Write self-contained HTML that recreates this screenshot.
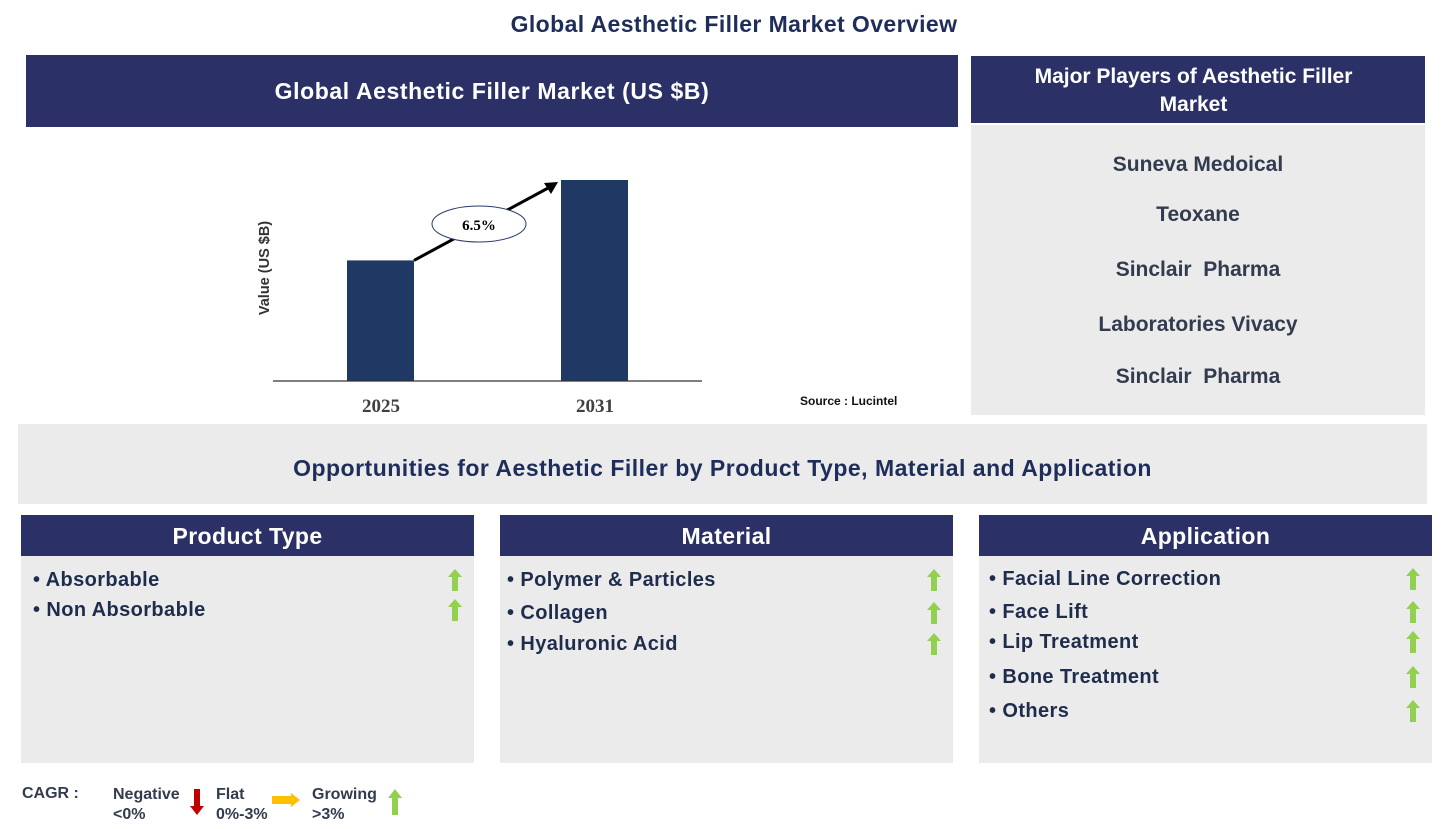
<!DOCTYPE html>
<html><head><meta charset="utf-8"><style>
body{margin:0;width:1449px;height:829px;background:#fff;font-family:"Liberation Sans",Arial,sans-serif;position:relative;overflow:hidden}
.a{position:absolute}
.hdr{background:#2b3167;color:#fff;font-weight:bold;text-align:center}
.gray{background:#ebebeb}
.t{color:#1f2d4d;font-weight:bold;font-size:20px;position:absolute;white-space:nowrap;letter-spacing:0.4px}
.pl{color:#333b4f;font-weight:bold;font-size:21px;position:absolute;width:454px;text-align:center;left:0}
</style></head><body>
<div class="a" style="left:0;width:1468px;top:11px;text-align:center;font-size:23px;font-weight:bold;color:#1f2d5a;letter-spacing:0.4px">Global Aesthetic Filler Market Overview</div>
<div class="a hdr" style="left:26px;top:55px;width:932px;height:72px;line-height:72px;font-size:23px;letter-spacing:0.6px">Global Aesthetic Filler Market (US $B)</div>
<svg class="a" style="left:0;top:130px" width="960" height="290" id="chart"></svg>
<div class="a" style="left:800px;top:394px;font-size:12px;font-weight:bold;color:#111">Source : Lucintel</div>

<div class="a hdr" style="left:962px;top:56px;width:463px;height:67px;font-size:21px;line-height:28px;padding-top:7px;box-sizing:border-box">Major Players of Aesthetic Filler<br>Market</div>
<div class="a" style="left:962px;top:56px;width:9px;height:67px;background:#fff"></div>
<div class="a gray" style="left:971px;top:125px;width:454px;height:290px">
<div class="pl" style="top:28px">Suneva Medoical</div>
<div class="pl" style="top:78px">Teoxane</div>
<div class="pl" style="top:133px">Sinclair &nbsp;Pharma</div>
<div class="pl" style="top:188px">Laboratories Vivacy</div>
<div class="pl" style="top:240px">Sinclair &nbsp;Pharma</div>
</div>

<div class="a gray" style="left:18px;top:424px;width:1409px;height:80px;line-height:88px;text-align:center;font-size:23px;font-weight:bold;color:#1f2d5a;letter-spacing:0.5px">Opportunities for Aesthetic Filler by Product Type, Material and Application</div>

<div id="cols"></div>

<div class="a" style="left:22px;top:785px;font-size:16px;font-weight:bold;color:#333b4f">CAGR :</div>
<div class="a" style="left:113px;top:785px;font-size:16px;font-weight:bold;color:#333b4f;line-height:20px">Negative<br>&lt;0%</div>
<svg class="a" style="left:190px;top:789px" width="14" height="26"><polygon points="4,0 10,0 10,17 14,17 7,26 0,17 4,17" fill="#c00000"/></svg>
<div class="a" style="left:216px;top:785px;font-size:16px;font-weight:bold;color:#333b4f;line-height:20px">Flat<br>0%-3%</div>
<svg class="a" style="left:272px;top:793px" width="28" height="14"><polygon points="0,3 19,3 19,0 28,7 19,14 19,11 0,11" fill="#ffc000"/></svg>
<div class="a" style="left:312px;top:785px;font-size:16px;font-weight:bold;color:#333b4f;line-height:20px">Growing<br>&gt;3%</div>
<svg class="a" style="left:388px;top:789px" width="14" height="26"><polygon points="7,0 14,9 10,9 10,26 4,26 4,9 0,9" fill="#92d050"/></svg>

<script>
const years=["2025","2031"];
const values=[1.2,2.0];
const cagrLabel="6.5%";
const svg=document.getElementById('chart');
const NS='http://www.w3.org/2000/svg';
const base=251, pxPer=100.5;
const xPos=i=>347+i*214;
const y=v=>base-v*pxPer;
function mk(t,a){const e=document.createElementNS(NS,t);for(const k in a)e.setAttribute(k,a[k]);svg.appendChild(e);return e;}
years.forEach((yr,i)=>{
 const r=mk('rect',{x:xPos(i),y:y(values[i]),width:67,height:values[i]*pxPer,fill:'#203864'});
 
 
 const t=mk('text',{x:xPos(i)+34,y:282,'text-anchor':'middle','font-family':'Liberation Serif,serif','font-weight':'bold','font-size':19,fill:'#404040'});
 t.textContent=yr;
 
 
});
const ax=mk('line',{x1:273,x2:702,y1:base,y2:base,stroke:'#333','stroke-width':1.3});


const yt=mk('text',{transform:'translate(269,138) rotate(-90)','text-anchor':'middle','font-size':14.5,'font-weight':'bold',fill:'#333'});
yt.textContent='Value (US $B)';


const x1=xPos(0)+67,y1=y(values[0]),x2=xPos(1)-3,y2=y(values[1])+2;
const ln=mk('line',{x1:x1,y1:y1,x2:x2-8,y2:y2+5,stroke:'#000','stroke-width':3});


const ah=mk('polygon',{points:`${x2},${y2} ${x2-14},${y2+1} ${x2-7},${y2+12}`,fill:'#000'});


const el=mk('ellipse',{cx:479,cy:94,rx:47,ry:18,fill:'#fff',stroke:'#2b3a67','stroke-width':1});


const ct=mk('text',{x:479,y:100,'text-anchor':'middle','font-family':'Liberation Serif,serif','font-weight':'bold','font-size':15,fill:'#000'});
ct.textContent=cagrLabel;



const cols=[
 {name:'Product Type',x:21,items:[['Absorbable',580],['Non Absorbable',610]],ix:33},
 {name:'Material',x:500,items:[[' Polymer & Particles',580],['Collagen',613],['Hyaluronic  Acid',644]],ix:507},
 {name:'Application',x:979,items:[['Facial Line Correction',579],['Face Lift',612],['Lip Treatment',642],['Bone Treatment',677],['Others',711]],ix:989}
];
const c=document.getElementById('cols');
cols.forEach(col=>{
 const h=document.createElement('div');h.className='a hdr';
 
 
 h.style.cssText=`left:${col.x}px;top:515px;width:453px;height:41px;line-height:42px;font-size:23px;letter-spacing:0.4px`;
 h.textContent=col.name;c.appendChild(h);
 const p=document.createElement('div');p.className='a gray';
 
 
 p.style.cssText=`left:${col.x}px;top:556px;width:453px;height:207px`;c.appendChild(p);
 col.items.forEach(([txt,ty])=>{
  const d=document.createElement('div');d.className='t';
  
  
  d.style.left=col.ix+'px';d.style.top=(ty-11)+'px';
  d.textContent='• '+txt;c.appendChild(d);
  const a=document.createElementNS(NS,'svg');
  
  
  a.setAttribute('width','14');a.setAttribute('height','22');
  a.setAttribute('class','a');
  a.style.left=(col.x+427)+'px';a.style.top=(ty-11)+'px';
  a.innerHTML='<polygon points="7,0 14,8 10,8 10,22 4,22 4,8 0,8" fill="#92d050"/>';
  c.appendChild(a);
 });
});
</script>
</body></html>
